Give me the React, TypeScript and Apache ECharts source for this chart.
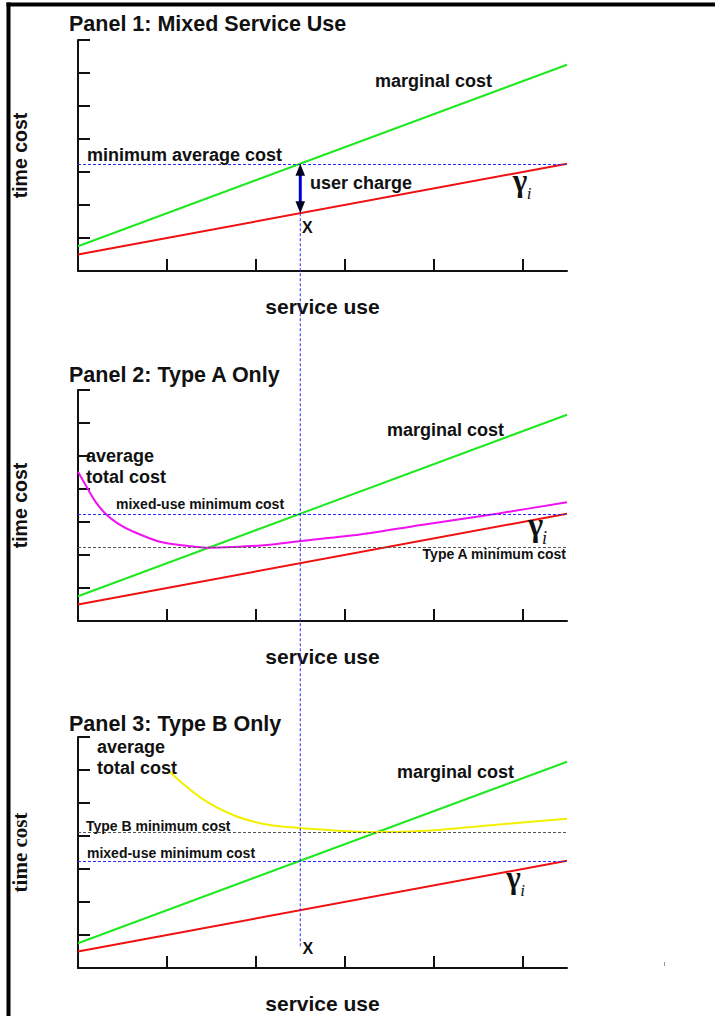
import { useEffect, useRef } from "react";
import * as echarts from "echarts";

// ---------- data ----------
const X_MAX = 5.5;
const Y_MAX = 7;
const X_TICKS = [1, 2, 3, 4, 5];
const Y_TICKS = [1, 2, 3, 4, 5, 6, 7];

const marginalX = [0, 5.5];
const marginalY = [0.75, 6.25];
const gammaX = [0, 5.5];
const gammaY = [0.5, 3.25];

const mixedMinCost = 3.25;
const userChargeX = 2.5;
const userChargeLow = 1.75;
const vLineEndPanel3 = 0.6;
const typeAMinCost = 2.22;
const typeBMinCost = 4.12;

const avgCostAX = [0, 0.1, 0.2, 0.31, 0.45, 0.62, 0.92, 1.22, 1.47, 1.74, 2.12, 2.49, 3.17, 3.86, 4.73, 5.5];
const avgCostAY = [4.52, 4.05, 3.6, 3.25, 2.95, 2.71, 2.4, 2.28, 2.22, 2.24, 2.3, 2.42, 2.62, 2.91, 3.26, 3.6];

const avgCostBX = [1.01, 1.37, 1.75, 2.12, 2.49, 2.87, 3.17, 3.37, 3.97, 4.61, 5.5];
const avgCostBY = [5.99, 5.18, 4.63, 4.35, 4.24, 4.17, 4.13, 4.12, 4.17, 4.32, 4.52];

const panelTitles = ["Panel 1: Mixed Service Use", "Panel 2: Type A Only", "Panel 3: Type B Only"];

// ---------- styles ----------
const SANS = "'Liberation Sans', Arial, Helvetica, sans-serif";
const SERIF = "'Liberation Serif', 'Times New Roman', serif";
const INK = "#111";
const GREEN = "#1ee81e";
const RED = "#f01010";
const MAGENTA = "#f010f0";
const YELLOW = "#f2f000";
const BLUE_DASH = "#2a2aff";
const GRAY_DASH = "#555";

const zip = (xs: number[], ys: number[]) => xs.map((x, i) => [x, ys[i]]);

const GRID_TOPS = [40, 390, 737];

export default function App() {
  const ref = useRef<HTMLDivElement>(null);

  useEffect(() => {
    const chart = echarts.init(ref.current!, null, { renderer: "svg" });

    const xAxis = (gi: number) => ({
      type: "value",
      gridIndex: gi,
      min: 0,
      max: X_MAX,
      interval: 1,
      axisLine: { show: true, onZero: false, lineStyle: { color: INK, width: 2 } },
      axisTick: { show: true, inside: true, length: 12, customValues: X_TICKS, lineStyle: { color: INK, width: 2 } },
      axisLabel: { show: false },
      splitLine: { show: false },
      name: "service use",
      nameLocation: "middle",
      nameGap: 25,
      nameTextStyle: { fontSize: 21, fontWeight: "bold", color: INK, fontFamily: SANS },
    });
    const yAxis = (gi: number, serif: boolean) => ({
      type: "value",
      gridIndex: gi,
      min: 0,
      max: Y_MAX,
      interval: 1,
      axisLine: { show: true, onZero: false, lineStyle: { color: INK, width: 2 } },
      axisTick: { show: true, inside: true, length: 12, customValues: Y_TICKS, lineStyle: { color: INK, width: 2 } },
      axisLabel: { show: false },
      splitLine: { show: false },
      name: "time cost",
      nameLocation: "middle",
      nameRotate: 90,
      nameGap: 48,
      nameTextStyle: serif
        ? { fontSize: 21, fontWeight: "bold", color: INK, fontFamily: SERIF }
        : { fontSize: 19.5, fontWeight: "bold", color: INK, fontFamily: SANS },
    });

    const dashLine = (value: number, color: string) => ({
      yAxis: value,
      lineStyle: { color, type: [3, 2], width: 1 },
    });
    const markLine = (items: any[]) => ({
      silent: true,
      symbol: ["none", "none"],
      label: { show: false },
      emphasis: { disabled: true },
      data: items,
    });
    const lineSeries = (gi: number, data: number[][], color: string, extra: any = {}) => ({
      type: "line",
      xAxisIndex: gi,
      yAxisIndex: gi,
      data,
      symbol: "none",
      lineStyle: { color, width: 2 },
      itemStyle: { color },
      silent: true,
      z: 3,
      ...extra,
    });

    const series: any[] = [];
    for (let g = 0; g < 3; g++) {
      series.push(lineSeries(g, zip(gammaX, gammaY), RED, { markLine: markLine([dashLine(mixedMinCost, BLUE_DASH)]) }));
      series.push(lineSeries(g, zip(marginalX, marginalY), GREEN));
    }
    series.push(
      lineSeries(1, zip(avgCostAX, avgCostAY), MAGENTA, {
        smooth: 0.3,
        markLine: markLine([dashLine(typeAMinCost, GRAY_DASH)]),
      })
    );
    series.push(
      lineSeries(2, zip(avgCostBX, avgCostBY), YELLOW, {
        smooth: 0.3,
        markLine: markLine([dashLine(typeBMinCost, GRAY_DASH)]),
      })
    );

    chart.setOption({
      animation: false,
      backgroundColor: "#fff",
      grid: GRID_TOPS.map((t) => ({ left: 78, width: 489, top: t, height: 231 })),
      xAxis: [xAxis(0), xAxis(1), xAxis(2)],
      yAxis: [yAxis(0, false), yAxis(1, false), yAxis(2, true)],
      series,
    });

    const px = (g: number, v: number[]) => chart.convertToPixel({ gridIndex: g } as any, v) as number[];
    const top1 = px(0, [userChargeX, mixedMinCost]);
    const low1 = px(0, [userChargeX, userChargeLow]);
    const end3 = px(2, [userChargeX, vLineEndPanel3]);
    const vx = top1[0];

    const txt = (text: string, x: number, y: number, size: number, extra: any = {}) => ({
      type: "text",
      x,
      y,
      silent: true,
      z: 5,
      style: {
        text,
        fontSize: size,
        fontWeight: "bold",
        fontFamily: SANS,
        fill: INK,
        align: "left",
        verticalAlign: "middle",
        ...extra,
      },
    });
    const gammaLabel = (x: number, y: number, size: number) => [
      txt("γ", x, y - 6, size, { fontFamily: SERIF, align: "center" }),
      txt("i", x + 9, y + 7, Math.round(size * 0.55), { fontFamily: SERIF, fontWeight: "normal", fontStyle: "italic", align: "center" }),
    ];

    const graphic: any[] = [
      // frame
      { type: "rect", silent: true, shape: { x: 6.5, y: 2.5, width: 708.5, height: 4 }, style: { fill: "#000" } },
      { type: "rect", silent: true, shape: { x: 6.5, y: 2.5, width: 4, height: 1013.5 }, style: { fill: "#000" } },
      { type: "rect", silent: true, shape: { x: 664, y: 962, width: 1, height: 4 }, style: { fill: "#999" } },
      // vertical dashed line at x
      {
        type: "line",
        silent: true,
        z: 4,
        shape: { x1: vx, y1: low1[1], x2: vx, y2: end3[1] },
        style: { stroke: BLUE_DASH, lineWidth: 1, lineDash: [3, 2] },
      },
      // user charge arrow
      {
        type: "line",
        silent: true,
        z: 6,
        shape: { x1: vx, y1: top1[1] + 8, x2: vx, y2: low1[1] - 8 },
        style: { stroke: "#0000d8", lineWidth: 3 },
      },
      {
        type: "polygon",
        silent: true,
        z: 7,
        shape: { points: [[vx, top1[1]], [vx - 4.8, top1[1] + 12], [vx + 4.8, top1[1] + 12]] },
        style: { fill: "#000022" },
      },
      {
        type: "polygon",
        silent: true,
        z: 7,
        shape: { points: [[vx, low1[1]], [vx - 4.8, low1[1] - 12], [vx + 4.8, low1[1] - 12]] },
        style: { fill: "#000022" },
      },
      // titles
      txt(panelTitles[0], 69, 24, 21.5),
      txt(panelTitles[1], 69, 374.5, 21.5),
      txt(panelTitles[2], 69, 723.5, 21.5),
      // panel 1 labels
      txt("minimum average cost", 87, 155, 18),
      txt("user charge", 310, 183, 18),
      txt("X", vx + 7, 227.5, 16, { align: "center" }),
      txt("marginal cost", 375, 81, 18),
      ...gammaLabel(520, 186.7, 31),
      // panel 2 labels
      txt("average", 86, 455.5, 18),
      txt("total cost", 86, 476.5, 18),
      txt("mixed-use minimum cost", 116, 503.5, 14),
      txt("Type A minimum cost", 566, 554, 14, { align: "right" }),
      txt("marginal cost", 387, 430, 18),
      ...gammaLabel(535.5, 531, 33),
      // panel 3 labels
      txt("average", 97, 747, 18),
      txt("total cost", 97, 768, 18),
      txt("Type B minimum cost", 86, 825.5, 14),
      txt("mixed-use minimum cost", 87, 852.5, 14),
      txt("marginal cost", 397, 772, 18),
      ...gammaLabel(513.5, 883, 31),
      txt("X", vx + 7.5, 948.5, 16, { align: "center" }),
    ];

    chart.setOption({ graphic });

    return () => chart.dispose();
  }, []);

  return (
    <div
      ref={ref}
      style={{ position: "absolute", left: 0, top: 0, width: 715, height: 1016 }}
    />
  );
}
